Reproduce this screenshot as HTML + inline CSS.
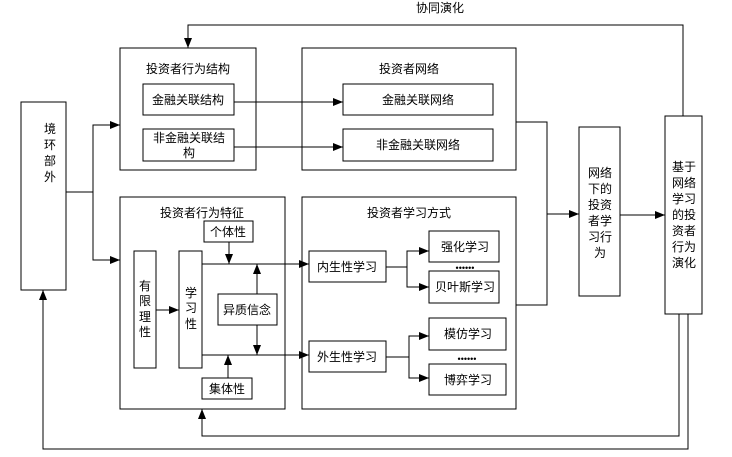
<!DOCTYPE html>
<html><head><meta charset="utf-8"><style>
html,body{margin:0;padding:0;background:#fff}
svg{display:block}
text{font-family:"Liberation Sans","Noto Sans CJK SC",sans-serif;font-size:12px;fill:#000}
</style></head><body>
<svg width="732" height="457" viewBox="0 0 732 457" xmlns="http://www.w3.org/2000/svg">
<defs><marker id="a" markerWidth="10" markerHeight="8" refX="10" refY="4" orient="auto" markerUnits="userSpaceOnUse"><path d="M0,0L10,4L0,8z" fill="#000"/></marker></defs>
<g fill="none" stroke="#000" stroke-width="1">
<rect x="21" y="102" width="45" height="188"/>
<rect x="120" y="48" width="136" height="122"/>
<rect x="143" y="84" width="91" height="31"/>
<rect x="143" y="129" width="91" height="32"/>
<rect x="302" y="48" width="214" height="122"/>
<rect x="343" y="84" width="150" height="31"/>
<rect x="343" y="129" width="150" height="32"/>
<rect x="120" y="197" width="165" height="212"/>
<rect x="134" y="251" width="22" height="117"/>
<rect x="179" y="251" width="23" height="117"/>
<rect x="204" y="221" width="49" height="21"/>
<rect x="218" y="294" width="59" height="31"/>
<rect x="202" y="378" width="50" height="21"/>
<rect x="302" y="197" width="214" height="212"/>
<rect x="309" y="251" width="77" height="31"/>
<rect x="309" y="341" width="77" height="31"/>
<rect x="429" y="231" width="70" height="31"/>
<rect x="429" y="271" width="70" height="32"/>
<rect x="429" y="318" width="77" height="32"/>
<rect x="429" y="364" width="77" height="31"/>
<rect x="579" y="127" width="41" height="169"/>
<rect x="665" y="116" width="37" height="198"/>
<path d="M683,116V25H188V48" marker-end="url(#a)"/>
<path d="M66,192H93V125H120" marker-end="url(#a)"/>
<path d="M93,192V260H120" marker-end="url(#a)"/>
<path d="M234,102H343" marker-end="url(#a)"/>
<path d="M234,147H343" marker-end="url(#a)"/>
<path d="M156,310H179" marker-end="url(#a)"/>
<path d="M202,264H309" marker-end="url(#a)"/>
<path d="M202,355H309" marker-end="url(#a)"/>
<path d="M229,242V264" marker-end="url(#a)"/>
<path d="M228,378V355" marker-end="url(#a)"/>
<path d="M257,294V264" marker-end="url(#a)"/>
<path d="M257,325V355" marker-end="url(#a)"/>
<path d="M386,267H407V251H429" marker-end="url(#a)"/>
<path d="M407,267V287H429" marker-end="url(#a)"/>
<path d="M386,357H409V336H429" marker-end="url(#a)"/>
<path d="M409,357V378H429" marker-end="url(#a)"/>
<path d="M516,122H547V305H516"/>
<path d="M547,214H579" marker-end="url(#a)"/>
<path d="M620,215H665" marker-end="url(#a)"/>
<path d="M679,314V436H202V409" marker-end="url(#a)"/>
<path d="M688,314V449H43V290" marker-end="url(#a)"/>
</g>
<text x="440" y="12" text-anchor="middle">协同演化</text>
<g text-anchor="middle">
<text x="50" y="133">境</text><text x="50" y="149">环</text><text x="50" y="165">部</text><text x="50" y="181">外</text>
<text x="188" y="73">投资者行为结构</text>
<text x="188" y="104">金融关联结构</text>
<text x="189" y="142">非金融关联结</text><text x="189" y="157">构</text>
<text x="409" y="73">投资者网络</text>
<text x="418" y="104">金融关联网络</text>
<text x="418" y="149">非金融关联网络</text>
<text x="202" y="217">投资者行为特征</text>
<text x="228" y="236">个体性</text>
<text x="247" y="314">异质信念</text>
<text x="227" y="393">集体性</text>
<text x="145" y="290">有</text><text x="145" y="305">限</text><text x="145" y="321">理</text><text x="145" y="336">性</text>
<text x="191" y="297">学</text><text x="191" y="312">习</text><text x="191" y="328">性</text>
<text x="409" y="217">投资者学习方式</text>
<text x="347" y="271">内生性学习</text>
<text x="347" y="361">外生性学习</text>
<text x="465" y="251">强化学习</text>
<text x="465" y="291">贝叶斯学习</text>
<text x="468" y="338">模仿学习</text>
<text x="468" y="384">博弈学习</text>
<text x="465" y="271" style="font-size:9px">••••••</text>
<text x="467" y="362" style="font-size:9px">••••••</text>
<text x="600" y="177">网络</text><text x="600" y="193">下的</text><text x="600" y="209">投资</text><text x="600" y="225">者学</text><text x="600" y="241">习行</text><text x="600" y="257">为</text>
<text x="684" y="171">基于</text><text x="684" y="187">网络</text><text x="684" y="203">学习</text><text x="684" y="219">的投</text><text x="684" y="235">资者</text><text x="684" y="251">行为</text><text x="684" y="267">演化</text>
</g>
</svg>
</body></html>
